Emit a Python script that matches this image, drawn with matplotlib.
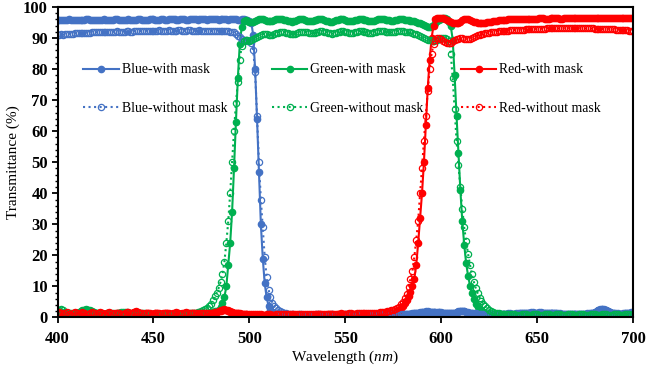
import numpy as np
import matplotlib
matplotlib.use("Agg")
import matplotlib.pyplot as plt
from matplotlib.ticker import MultipleLocator
from matplotlib.legend import Legend

plt.rcParams['font.family'] = ['Liberation Serif', 'DejaVu Serif']
plt.rcParams['mathtext.fontset'] = 'custom'
plt.rcParams['mathtext.rm'] = 'Liberation Serif'
plt.rcParams['mathtext.it'] = 'Liberation Serif:italic'

wavelength = np.arange(400, 701)

blue_with = [
 95.8,95.9,95.8,95.7,95.8,95.9,96.0,95.9,95.8,95.8,
 95.9,95.9,95.8,95.8,95.9,96.0,96.0,95.9,95.8,95.9,
 95.9,95.8,95.8,95.9,96.0,95.9,95.9,95.8,95.8,95.9,
 96.0,96.0,95.9,95.8,95.8,95.9,95.9,96.0,95.9,95.8,
 95.8,95.9,96.0,96.0,95.9,95.8,95.9,95.9,96.0,96.1,
 96.0,95.9,95.8,95.9,96.0,96.0,95.9,95.9,96.0,96.1,
 96.1,96.0,95.9,95.9,96.0,96.1,96.0,95.9,95.9,96.0,
 96.1,96.1,96.0,95.9,96.0,96.0,96.1,96.0,95.9,96.0,
 96.0,96.1,96.1,96.0,95.9,96.0,96.1,96.0,96.0,95.9,
 96.0,96.0,96.1,96.0,95.9,95.9,96.0,96.0,95.9,95.8,
 95.6,95.0,91.0,80.0,64.0,47.0,30.0,19.0,11.0,6.5,
 3.8,2.5,1.8,1.4,1.2,1.0,0.9,0.9,0.8,0.8,
 0.8,0.9,0.9,0.8,0.8,0.7,0.8,0.8,0.9,0.8,
 0.8,0.7,0.7,0.8,0.8,0.9,0.9,0.8,0.8,0.7,
 0.7,0.8,0.8,0.9,0.8,0.8,0.7,0.7,0.8,0.8,
 0.9,0.9,0.8,0.8,0.7,0.8,0.8,0.9,0.9,0.8,
 0.8,0.8,0.9,0.9,0.8,0.8,0.9,1.0,0.9,0.9,
 0.9,0.9,1.0,1.0,0.9,0.9,1.0,1.0,1.1,1.0,
 1.0,1.1,1.1,1.0,1.1,1.2,1.3,1.4,1.5,1.6,
 1.7,1.8,1.9,1.9,1.8,1.8,1.7,1.6,1.6,1.7,
 1.6,1.5,1.4,1.4,1.3,1.3,1.4,1.5,1.7,1.9,
 2.0,2.1,2.0,1.8,1.6,1.4,1.3,1.2,1.2,1.1,
 1.1,1.0,1.0,1.0,1.0,0.9,0.9,1.0,1.0,1.1,
 1.1,1.0,1.0,1.1,1.1,1.2,1.2,1.1,1.1,1.2,
 1.2,1.3,1.3,1.4,1.4,1.5,1.5,1.6,1.6,1.5,
 1.5,1.6,1.6,1.5,1.5,1.4,1.4,1.5,1.4,1.3,
 1.3,1.2,1.2,1.1,1.1,1.1,1.0,1.0,1.0,1.1,
 1.1,1.0,1.0,1.0,1.1,1.1,1.2,1.2,1.3,1.5,
 1.7,2.0,2.3,2.5,2.6,2.5,2.3,2.0,1.7,1.5,
 1.3,1.2,1.2,1.1,1.1,1.2,1.3,1.4,1.5,1.6,
 1.7]

blue_without = [
 91.0,91.1,91.2,91.1,91.2,91.3,91.4,91.3,91.4,91.5,
 91.5,91.6,91.5,91.6,91.7,91.7,91.6,91.7,91.8,91.8,
 91.9,91.8,91.8,91.9,92.0,92.1,92.0,91.9,91.9,92.0,
 92.1,92.2,92.1,92.0,92.0,92.1,92.2,92.2,92.1,92.1,
 92.2,92.3,92.4,92.3,92.2,92.2,92.3,92.4,92.4,92.3,
 92.2,92.3,92.4,92.5,92.4,92.3,92.3,92.4,92.5,92.4,
 92.3,92.3,92.4,92.5,92.5,92.4,92.3,92.4,92.5,92.5,
 92.4,92.3,92.3,92.4,92.5,92.4,92.3,92.3,92.4,92.4,
 92.3,92.2,92.3,92.4,92.4,92.3,92.2,92.2,92.3,92.2,
 92.1,92.0,91.8,91.4,90.8,90.2,89.8,89.5,89.3,89.2,
 89.0,88.5,86.0,79.0,65.0,50.0,38.0,29.0,19.5,13.0,
 9.0,6.5,4.8,3.6,2.9,2.4,2.0,1.7,1.5,1.3,
 1.2,1.1,1.0,1.0,0.9,0.9,1.0,1.0,0.9,0.9,
 0.9,0.8,0.8,0.9,0.9,1.0,1.0,0.9,0.9,0.8,
 0.8,0.9,0.9,1.0,0.9,0.9,0.8,0.8,0.9,0.9,
 1.0,1.0,0.9,0.9,0.8,0.9,0.9,1.0,1.0,0.9,
 0.9,0.9,1.0,1.0,0.9,0.9,1.0,1.1,1.0,1.0,
 1.0,1.0,1.1,1.1,1.0,1.0,1.1,1.1,1.2,1.1,
 1.1,1.2,1.2,1.1,1.2,1.3,1.4,1.5,1.6,1.7,
 1.8,1.9,2.0,2.0,1.9,1.9,1.8,1.7,1.7,1.8,
 1.7,1.6,1.5,1.5,1.4,1.4,1.5,1.6,1.8,2.0,
 2.1,2.2,2.1,1.9,1.7,1.5,1.4,1.3,1.3,1.2,
 1.2,1.1,1.1,1.1,1.1,1.0,1.0,1.1,1.1,1.2,
 1.2,1.1,1.1,1.2,1.2,1.3,1.3,1.2,1.2,1.3,
 1.3,1.4,1.4,1.5,1.5,1.6,1.6,1.7,1.7,1.6,
 1.6,1.7,1.7,1.6,1.6,1.5,1.5,1.6,1.5,1.4,
 1.4,1.3,1.3,1.2,1.2,1.2,1.1,1.1,1.1,1.2,
 1.2,1.1,1.1,1.1,1.2,1.2,1.3,1.3,1.4,1.6,
 1.8,2.1,2.4,2.6,2.7,2.6,2.4,2.1,1.8,1.6,
 1.4,1.3,1.3,1.2,1.2,1.3,1.4,1.5,1.6,1.7,
 1.8]

green_with = [
 1.2,1.4,1.5,1.3,1.1,1.0,0.9,1.0,1.1,1.2,
 1.3,1.5,1.8,2.1,2.3,2.4,2.3,2.1,1.8,1.5,
 1.3,1.1,1.0,0.9,0.9,1.0,1.1,1.2,1.2,1.1,
 1.0,1.1,1.3,1.5,1.6,1.6,1.5,1.3,1.1,1.0,
 0.9,0.9,1.0,1.1,1.2,1.1,1.0,0.9,0.8,0.8,
 0.8,0.9,1.0,1.0,0.9,0.8,0.7,0.7,0.6,0.6,
 0.6,0.5,0.5,0.6,0.6,0.5,0.5,0.6,0.7,0.7,
 0.8,0.8,0.9,0.9,1.0,1.0,1.1,1.2,1.3,1.4,
 1.6,1.8,2.0,2.2,2.5,3.3,4.8,6.6,10.0,17.0,
 24.0,34.0,48.0,63.0,77.0,88.0,93.5,95.5,95.8,95.6,
 95.3,95.2,95.3,95.5,95.8,96.0,96.1,96.0,95.8,95.6,
 95.5,95.5,95.6,95.8,96.0,96.1,96.2,96.1,95.9,95.7,
 95.5,95.4,95.3,95.4,95.6,95.8,96.0,96.1,96.0,95.8,
 95.6,95.5,95.4,95.5,95.7,95.9,96.0,96.1,96.0,95.8,
 95.6,95.4,95.3,95.3,95.5,95.7,95.9,96.0,96.1,96.0,
 95.8,95.6,95.5,95.4,95.5,95.7,95.9,96.0,96.1,96.0,
 95.9,95.7,95.5,95.4,95.4,95.6,95.8,96.0,96.1,96.1,
 96.0,95.9,95.8,95.7,95.6,95.6,95.7,95.9,96.0,96.1,
 96.0,95.9,95.8,95.7,95.6,95.5,95.4,95.2,95.0,94.7,
 94.4,94.1,93.8,93.6,93.6,93.8,94.2,94.8,95.4,95.9,
 96.2,96.4,96.3,96.0,95.3,93.8,89.5,78.0,65.0,53.0,
 41.0,31.0,23.5,17.5,13.5,10.3,7.8,5.9,4.5,3.5,
 2.7,2.1,1.7,1.4,1.2,1.0,0.9,0.9,0.8,0.8,
 0.8,0.8,0.7,0.7,0.8,0.8,0.8,0.7,0.7,0.7,
 0.8,0.8,0.8,0.7,0.7,0.7,0.8,0.8,0.8,0.7,
 0.7,0.7,0.8,0.8,0.8,0.7,0.7,0.7,0.8,0.8,
 0.8,0.7,0.7,0.7,0.8,0.8,0.8,0.7,0.7,0.7,
 0.8,0.8,0.8,0.7,0.7,0.7,0.8,0.8,0.8,0.7,
 0.7,0.7,0.8,0.8,0.8,0.7,0.7,0.7,0.8,0.8,
 0.8,0.7,0.7,0.7,0.8,0.8,0.8,0.7,0.7,0.7,
 0.8]

green_without = [
 2.0,2.4,2.6,2.3,1.9,1.6,1.4,1.3,1.4,1.5,
 1.6,1.8,2.0,2.3,2.5,2.6,2.5,2.3,2.0,1.7,
 1.5,1.3,1.2,1.1,1.1,1.2,1.3,1.4,1.4,1.3,
 1.2,1.3,1.5,1.7,1.8,1.8,1.7,1.5,1.3,1.2,
 1.1,1.1,1.2,1.3,1.4,1.3,1.2,1.1,1.0,1.0,
 1.0,1.1,1.2,1.2,1.1,1.0,0.9,0.9,0.8,0.8,
 0.8,0.8,0.8,0.9,0.9,0.9,1.0,1.1,1.2,1.3,
 1.4,1.5,1.6,1.7,1.8,2.0,2.3,2.7,3.2,3.8,
 4.5,5.5,6.8,8.0,9.5,11.5,14.0,18.0,24.0,31.0,
 40.0,50.0,60.0,69.0,76.0,83.0,87.5,89.0,89.5,89.3,
 89.2,89.3,89.6,90.0,90.4,90.8,91.1,91.3,91.3,91.2,
 91.0,90.9,91.0,91.2,91.5,91.7,91.9,92.0,91.9,91.7,
 91.5,91.3,91.2,91.2,91.4,91.6,91.8,92.0,92.1,92.0,
 91.8,91.6,91.5,91.5,91.6,91.8,92.0,92.2,92.2,92.1,
 91.9,91.7,91.5,91.4,91.5,91.7,91.9,92.1,92.2,92.2,
 92.0,91.8,91.6,91.5,91.6,91.8,92.0,92.2,92.3,92.2,
 92.1,91.9,91.7,91.6,91.6,91.8,92.0,92.2,92.3,92.3,
 92.2,92.0,91.9,91.8,91.8,91.9,92.1,92.2,92.3,92.3,
 92.2,92.1,92.0,91.9,91.8,91.6,91.4,91.2,90.9,90.6,
 90.3,90.0,89.7,89.5,89.3,89.2,89.2,89.3,89.5,89.7,
 89.9,90.0,90.0,89.8,89.0,85.0,77.0,67.0,57.0,49.0,
 42.0,35.0,29.0,24.5,20.5,17.0,14.0,11.5,9.5,7.8,
 6.4,5.2,4.3,3.6,3.0,2.5,2.1,1.8,1.6,1.4,
 1.3,1.2,1.2,1.1,1.1,1.0,1.0,1.0,1.0,0.9,
 0.9,0.9,1.0,1.0,1.0,0.9,0.9,0.9,1.0,1.0,
 1.0,0.9,0.9,0.9,1.0,1.0,1.0,0.9,0.9,0.9,
 1.0,1.0,1.0,0.9,0.9,0.9,1.0,1.0,1.0,0.9,
 0.9,0.9,1.0,1.0,1.0,0.9,0.9,0.9,1.0,1.0,
 1.0,0.9,0.9,0.9,1.0,1.0,1.0,0.9,0.9,0.9,
 1.0,1.0,1.0,0.9,0.9,0.9,1.0,1.0,1.0,0.9,
 1.0]

red_with = [
 1.0,1.3,1.5,1.2,0.9,1.1,1.4,1.2,1.0,1.3,
 1.5,1.2,1.0,1.2,1.4,1.1,0.9,1.2,1.5,1.3,
 1.0,1.2,1.4,1.3,1.1,1.0,1.3,1.5,1.2,1.0,
 1.2,1.4,1.3,1.1,1.0,1.3,1.6,1.4,1.2,1.4,
 1.7,1.8,1.6,1.4,1.2,1.1,1.3,1.4,1.2,1.0,
 1.1,1.3,1.4,1.2,1.0,1.1,1.3,1.4,1.2,1.1,
 1.2,1.4,1.5,1.3,1.1,1.2,1.4,1.5,1.3,1.2,
 1.3,1.4,1.2,1.1,1.2,1.3,1.4,1.3,1.2,1.3,
 1.4,1.5,1.6,1.8,2.0,2.2,2.4,2.5,2.4,2.2,
 1.9,1.7,1.5,1.4,1.3,1.2,1.1,1.0,1.0,0.9,
 0.9,0.8,0.8,0.9,0.9,0.8,0.8,0.7,0.7,0.8,
 0.8,0.8,0.7,0.7,0.8,0.8,0.9,0.9,0.8,0.8,
 0.8,0.8,0.9,0.9,0.9,0.8,0.8,0.8,0.9,0.9,
 0.9,0.9,0.8,0.8,0.9,0.9,1.0,1.0,0.9,0.9,
 0.9,1.0,1.0,1.0,0.9,0.9,1.0,1.0,1.1,1.0,
 1.0,1.0,1.1,1.1,1.0,1.0,1.1,1.1,1.1,1.0,
 1.0,1.1,1.1,1.1,1.1,1.2,1.2,1.2,1.2,1.3,
 1.3,1.3,1.3,1.4,1.3,1.5,1.7,2.0,2.5,3.0,
 3.7,4.6,5.6,6.8,8.2,10.0,12.5,17.0,24.0,32.0,
 40.0,50.0,62.0,74.0,83.0,90.0,94.0,96.0,96.4,96.6,
 96.5,96.3,96.1,95.9,95.6,95.2,94.9,94.7,94.7,94.9,
 95.3,95.7,96.0,96.1,96.0,95.8,95.5,95.3,95.1,95.0,
 94.9,94.9,94.9,95.0,95.1,95.2,95.3,95.4,95.5,95.6,
 95.7,95.8,95.8,95.9,95.9,96.0,96.0,96.0,96.1,96.1,
 96.1,96.1,96.2,96.2,96.2,96.2,96.1,96.1,96.2,96.2,
 96.2,96.3,96.3,96.3,96.2,96.2,96.2,96.3,96.3,96.3,
 96.3,96.3,96.2,96.2,96.3,96.3,96.4,96.4,96.3,96.3,
 96.3,96.4,96.4,96.4,96.3,96.3,96.4,96.4,96.5,96.5,
 96.4,96.4,96.4,96.5,96.5,96.5,96.4,96.4,96.5,96.5,
 96.5,96.5,96.4,96.5,96.5,96.6,96.6,96.5,96.5,96.6,
 96.6]

red_without = [
 1.3,1.8,1.5,1.0,1.4,1.7,1.2,0.9,1.5,1.8,
 1.4,1.0,1.3,1.7,1.5,1.1,1.2,1.6,1.8,1.4,
 1.1,1.4,1.7,1.5,1.2,1.1,1.5,1.8,1.4,1.1,
 1.3,1.6,1.5,1.2,1.1,1.5,1.9,1.7,1.4,1.6,
 1.9,2.0,1.8,1.5,1.3,1.2,1.5,1.6,1.3,1.1,
 1.2,1.5,1.6,1.3,1.1,1.3,1.5,1.6,1.4,1.2,
 1.3,1.6,1.7,1.5,1.2,1.3,1.6,1.7,1.5,1.3,
 1.4,1.6,1.4,1.2,1.3,1.5,1.6,1.5,1.3,1.4,
 1.5,1.6,1.7,1.9,2.1,2.3,2.5,2.6,2.5,2.3,
 2.0,1.8,1.6,1.5,1.4,1.3,1.2,1.2,1.1,1.1,
 1.0,1.0,1.0,1.1,1.1,1.0,1.0,0.9,0.9,1.0,
 1.0,1.0,0.9,0.9,1.0,1.0,1.1,1.1,1.0,1.0,
 1.0,1.0,1.1,1.1,1.1,1.0,1.0,1.0,1.1,1.1,
 1.1,1.1,1.0,1.0,1.1,1.1,1.2,1.2,1.1,1.1,
 1.1,1.2,1.2,1.2,1.1,1.1,1.2,1.2,1.3,1.2,
 1.2,1.2,1.3,1.3,1.2,1.2,1.3,1.3,1.3,1.3,
 1.3,1.4,1.4,1.4,1.5,1.5,1.6,1.6,1.7,1.8,
 1.8,1.9,2.0,2.1,2.3,2.5,2.7,3.0,3.5,4.2,
 5.0,6.2,7.7,9.8,12.5,15.0,19.5,25.0,31.0,40.0,
 48.0,57.0,65.0,73.0,80.0,85.0,88.0,89.5,90.0,90.0,
 89.6,89.1,88.7,88.4,88.3,88.5,88.9,89.3,89.6,89.8,
 89.9,89.9,89.8,89.7,89.7,89.8,90.0,90.3,90.6,90.9,
 91.1,91.3,91.4,91.5,91.6,91.7,91.8,91.9,92.0,92.1,
 92.2,92.2,92.3,92.3,92.4,92.4,92.5,92.5,92.6,92.6,
 92.6,92.7,92.7,92.7,92.8,92.8,92.8,92.9,92.9,92.9,
 92.9,93.0,93.0,93.0,93.0,93.1,93.1,93.1,93.1,93.1,
 93.1,93.1,93.2,93.2,93.2,93.2,93.2,93.2,93.2,93.2,
 93.2,93.2,93.2,93.2,93.1,93.1,93.1,93.1,93.1,93.1,
 93.0,93.0,93.0,93.0,92.9,92.9,92.9,92.9,92.8,92.8,
 92.8,92.7,92.7,92.7,92.6,92.6,92.5,92.5,92.4,92.4,
 92.3]

labels_with = ["Blue-with mask", "Green-with mask", "Red-with mask"]
labels_without = ["Blue-without mask", "Green-without mask", "Red-without mask"]
colors = ["#4472C4", "#00B050", "#FF0000"]

fig = plt.figure(figsize=(6.47, 3.70), dpi=100)
ax = fig.add_axes([0.0889, 0.1419, 0.8895, 0.8392])

with_series = [blue_with, green_with, red_with]
without_series = [blue_without, green_without, red_without]

handles_with = []
for vals, c, lab in zip(with_series, colors, labels_with):
    h, = ax.plot(wavelength, vals, color=c, lw=1.5, marker='o', ms=4.5,
                 mfc=c, mec=c, label=lab)
    handles_with.append(h)
handles_without = []
for vals, c, lab in zip(without_series, colors, labels_without):
    h, = ax.plot(wavelength, vals, color=c, lw=1.5, ls=':', marker='o', ms=4.5,
                 mfc='none', mec=c, mew=0.9, label=lab)
    handles_without.append(h)

ax.set_xlim(400, 700)
ax.set_ylim(0, 100)
ax.xaxis.set_major_locator(MultipleLocator(50))
ax.yaxis.set_major_locator(MultipleLocator(10))
ax.yaxis.set_minor_locator(MultipleLocator(2))
ax.tick_params(axis='both', which='major', direction='out', length=4, width=1.3,
               labelsize=12)
ax.tick_params(axis='y', which='minor', direction='out', length=2.5, width=1.0)
ax.tick_params(axis='x', pad=6)
ax.tick_params(axis='y', pad=3)
for lbl in ax.get_xticklabels() + ax.get_yticklabels():
    lbl.set_fontweight('bold')
for sp in ax.spines.values():
    sp.set_linewidth(1.5)

ax.set_xlabel(r'Wavelength ($\mathit{nm}$)', fontsize=11)
ax.set_ylabel('Transmittance (%)', fontsize=11)
ax.xaxis.set_label_coords(0.5, -0.10)
ax.yaxis.set_label_coords(-0.066, 0.5)

legend_x = [83.3, 271.7, 460.7]
for i in range(3):
    leg = Legend(ax, [handles_with[i], handles_without[i]],
                 [labels_with[i], labels_without[i]],
                 frameon=False, fontsize=9.9, numpoints=1, handlelength=2.6,
                 handletextpad=0.2, labelspacing=1.87,
                 loc='center left', bbox_to_anchor=(legend_x[i] / 647, 1 - 89.2 / 370),
                 bbox_transform=fig.transFigure, borderpad=0, borderaxespad=0)
    ax.add_artist(leg)

fig.savefig('out.png', dpi=100)
